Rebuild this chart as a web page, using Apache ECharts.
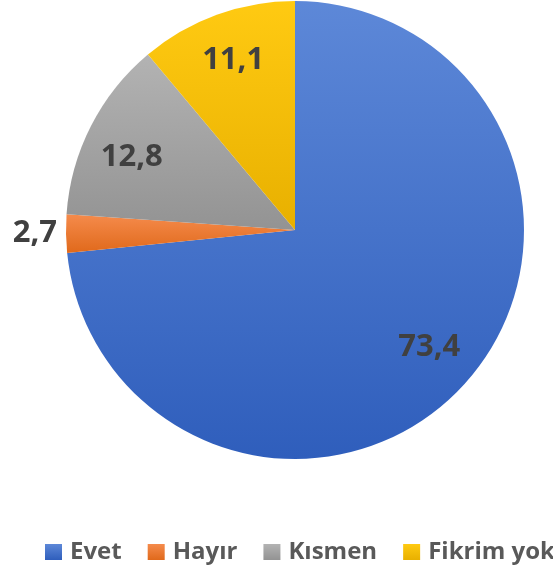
<!DOCTYPE html>
<html><head><meta charset="utf-8">
<script src="https://cdn.jsdelivr.net/npm/echarts@6/dist/echarts.min.js"></script>
<style>html,body{margin:0;padding:0;background:#fff}#c{width:553px;height:571px}</style>
</head><body><div id="c"></div>
<script>
const categories = ['Evet', 'Hayır', 'Kısmen', 'Fikrim yok'];
const values = [73.4, 2.7, 12.8, 11.1];
const labels = ['73,4', '2,7', '12,8', '11,1'];
const colorTop = ['#5D88D8', '#F58B4C', '#B3B3B3', '#FFCA12'];
const colorBot = ['#2F5EBC', '#E0691B', '#939393', '#E8B000'];
const labelPad = [[0,0,8,0], [0,0,0,0], [18,4,0,0], [0,0,0,0]];

function grad(i){
  return new echarts.graphic.LinearGradient(0,0,0,1,[{offset:0,color:colorTop[i]},{offset:1,color:colorBot[i]}]);
}
const chart = echarts.init(document.getElementById('c'));
const labelFont = {fontFamily:'Open Sans', fontWeight:'bold', fontSize:31, color:'#404040'};
chart.setOption({
  animation:false,
  legend:{
    left:40, top:535, width:1200, itemWidth:17, itemHeight:16, itemGap:26,
    icon:'rect',
    textStyle:{fontFamily:'Open Sans', fontWeight:'bold', fontSize:24, color:'#595959', padding:[0,0,0,3]},
    data:categories
  },
  series:[
    {
      type:'pie', center:[295,230], radius:[0,229], startAngle:90, clockwise:true,
      silent:true,
      data:categories.map((c,i)=>({
        name:c, value:values[i],
        itemStyle:{color:grad(i)},
        label: i===1 ? Object.assign({show:true, position:'outside', formatter:labels[i]}, labelFont) : {show:false},
        labelLine:{show:false, length:4, length2:0}
      })),
      itemStyle:{borderWidth:0}
    },
    {
      type:'pie', center:[295,230], radius:[127,229], startAngle:90, clockwise:true,
      silent:true, legendHoverLink:false,
      data:categories.map((c,i)=>({
        name:c+' ', value:values[i],
        itemStyle:{color:'rgba(0,0,0,0)'},
        label: i===1 ? {show:false} : {
          show:true, position:'inside', formatter:'{p|'+labels[i]+'}',
          rich:{p:Object.assign({padding:labelPad[i]}, labelFont)}
        }
      })),
      labelLine:{show:false}
    }
  ]
});
</script></body></html>
